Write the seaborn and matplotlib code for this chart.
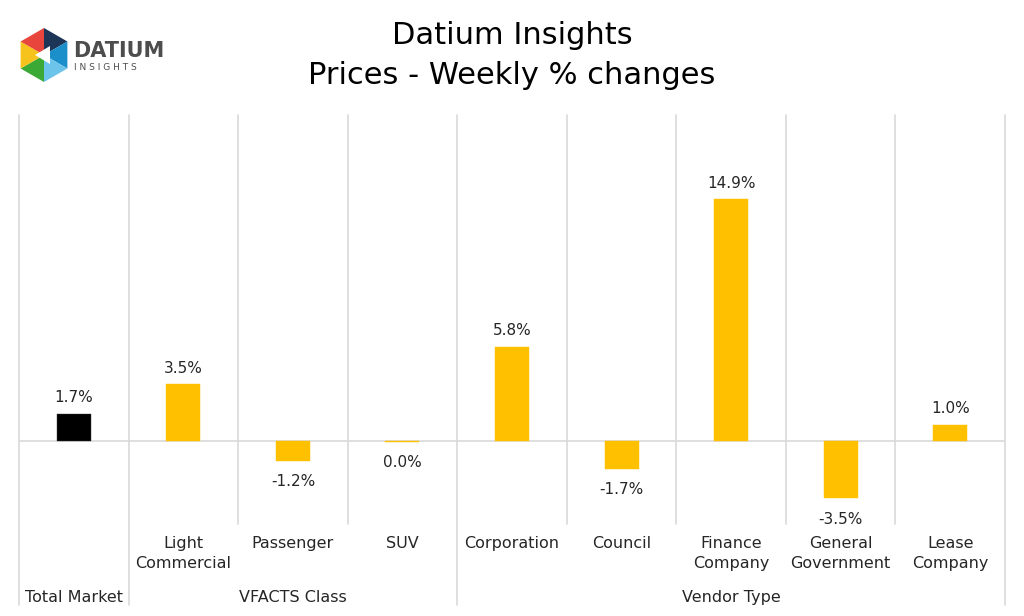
import matplotlib
matplotlib.use("Agg")
import matplotlib.pyplot as plt
import matplotlib.patches as mpatches
import numpy as np
import seaborn as sns

# Dados do gráfico
categorias = ["Total Market", "Light\nCommercial", "Passenger", "SUV",
              "Corporation", "Council", "Finance\nCompany", "General\nGovernment",
              "Lease\nCompany"]
rotulos_eixo = ["", "Light\nCommercial", "Passenger", "SUV", "Corporation",
                "Council", "Finance\nCompany", "General\nGovernment", "Lease\nCompany"]
valores = [1.7, 3.5, -1.2, -0.04, 5.8, -1.7, 14.9, -3.5, 1.0]
cores = ["#000000"] + ["#FFC000"] * 8
grupos = ["Total Market", "VFACTS Class", "Vendor Type"]
grupo_inicio = [0, 1, 4]
grupo_fim = [0, 3, 8]

W, H = 1024, 616
sns.set_theme(style="white")
plt.rcParams["font.family"] = ["DejaVu Sans"]

fig = plt.figure(figsize=(W / 100, H / 100), dpi=100)
ax = fig.add_axes([19 / W, 1 - 524 / H, 986 / W, (524 - 115) / H])

sns.barplot(x=categorias, y=valores, hue=categorias, palette=cores,
            legend=False, width=0.31, ax=ax, saturation=1,
            edgecolor="#3a3a3a", linewidth=0.3)
for p, c in zip(ax.patches, cores):
    if c != "#000000":
        p.set_edgecolor("#FFC000")

ax.set_xlim(-0.5, len(categorias) - 0.5)
ax.set_ylim(-5.1, 20.07)
for s in ax.spines.values():
    s.set_visible(False)
ax.set_xticks([])
ax.set_yticks([])
ax.set_xlabel("")
ax.set_ylabel("")

cinza = "#d9d9d9"
ax.axhline(0, color=cinza, lw=1.2, zorder=0)

# linhas verticais: internas curtas, separadores de grupo longos
trans = ax.get_xaxis_transform()
fronteiras = [-0.5] + [g + 0.5 for g in grupo_fim]
for i in range(len(categorias) + 1):
    x = i - 0.5
    base = -0.198 if x in fronteiras else 0
    ax.plot([x, x], [1, base], transform=trans, color=cinza, lw=1.2,
            clip_on=False, zorder=0)

# rótulos de valor
for i, v in enumerate(valores):
    txt = f"{v:.1f}%"
    if txt == "-0.0%":
        txt = "0.0%"
    off = 16 if v > 0 else -21
    ax.annotate(txt, (i, v), xytext=(0, off), textcoords="offset pixels",
                ha="center", va="center", fontsize=11, color="#262626")

# rótulos do eixo de categorias (dois níveis)
for i, r in enumerate(rotulos_eixo):
    ax.text(i, -0.03, r, transform=trans, ha="center", va="top",
            fontsize=11.5, color="#262626", linespacing=1.4)
for g, a, b in zip(grupos, grupo_inicio, grupo_fim):
    ax.text((a + b) / 2, -0.179, g, transform=trans, ha="center",
            va="center", fontsize=11.5, color="#262626")

# título
fig.text(0.5, 1 - 35 / H, "Datium Insights", ha="center", va="center",
         fontsize=22, color="#000000")
fig.text(0.5, 1 - 76 / H, "Prices - Weekly % changes", ha="center",
         va="center", fontsize=22, color="#000000")

# logotipo simplificado
lax = fig.add_axes([0, 1 - 110 / H, 200 / W, 110 / H])
lax.set_xlim(0, 200)
lax.set_ylim(110, 0)
lax.axis("off")
cx, cy, r = 44, 55, 27
ang = np.deg2rad(np.arange(-90, 270, 60))
vx = cx + r * np.cos(ang)
vy = cy + r * np.sin(ang)
cores_logo = ["#1d3557", "#1b8fc9", "#6cc4ea", "#3aa935", "#f6c21c", "#e8453c"]
for k in range(6):
    tri = mpatches.Polygon([[cx, cy], [vx[k], vy[k]], [vx[(k + 1) % 6], vy[(k + 1) % 6]]],
                           closed=True, color=cores_logo[k], lw=0)
    lax.add_patch(tri)
lax.add_patch(mpatches.Polygon([[cx - 9, cy], [cx + 6, cy - 9], [cx + 6, cy + 9]],
                               closed=True, color="white", lw=0))
lax.text(73, 51, "DATIUM", fontsize=15, fontweight="bold", color="#4d4d4d",
         va="center", ha="left")
lax.text(74, 68, "I N S I G H T S", fontsize=6.5, color="#4d4d4d",
         va="center", ha="left")

fig.savefig("out.png", dpi=100)
